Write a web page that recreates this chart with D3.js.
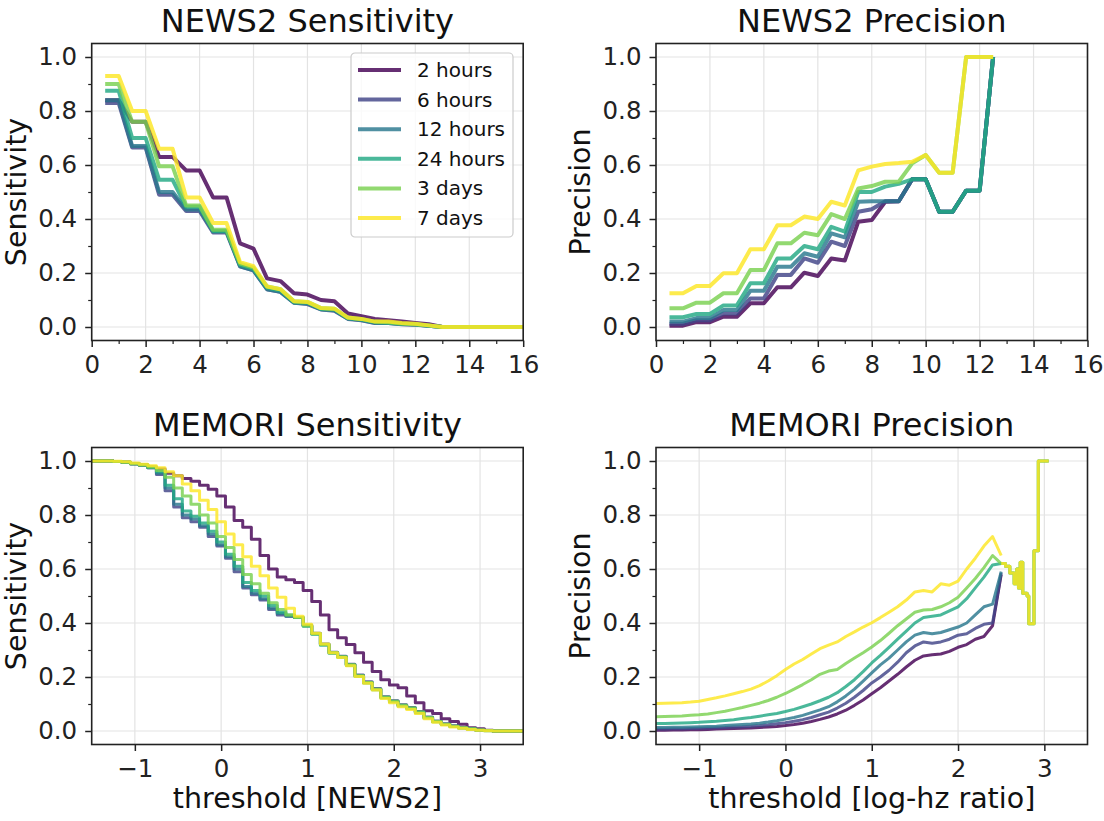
<!DOCTYPE html>
<html>
<head>
<meta charset="utf-8">
<script src="https://cdn.jsdelivr.net/npm/d3@7"></script>
<style>
    body { margin: 0; background: #fff; }
    svg { font-family: "DejaVu Sans", sans-serif; }
</style>
</head>
<body>
<div id="chart"></div>
<script>

// ---------------- data ----------------
const horizons = ["2 hours", "6 hours", "12 hours", "24 hours", "3 days", "7 days"];

// NEWS2 score thresholds
const news2Thresholds = [0.5, 1, 1.5, 2, 2.5, 3, 3.5, 4, 4.5, 5, 5.5, 6, 6.5, 7, 7.5, 8,
    8.5, 9, 9.5, 10, 10.5, 11, 11.5, 12, 12.5, 13, 13.5, 14, 14.5, 15, 15.5, 16];

const news2Sens2h  = [0.84, 0.84, 0.76, 0.76, 0.63, 0.63, 0.58, 0.58, 0.48, 0.48, 0.31, 0.29, 0.18, 0.17, 0.125, 0.12,
    0.10, 0.095, 0.05, 0.04, 0.03, 0.025, 0.02, 0.015, 0.01, 0, 0, 0, 0, 0, 0, 0];
const news2Sens6h  = [0.83, 0.83, 0.665, 0.665, 0.49, 0.49, 0.43, 0.43, 0.35, 0.35, 0.225, 0.21, 0.14, 0.13, 0.09, 0.085,
    0.065, 0.06, 0.03, 0.025, 0.015, 0.015, 0.01, 0.008, 0.005, 0, 0, 0, 0, 0, 0, 0];
const news2Sens12h = [0.84, 0.84, 0.67, 0.67, 0.50, 0.50, 0.435, 0.435, 0.355, 0.355, 0.225, 0.21, 0.14, 0.13, 0.09, 0.087,
    0.066, 0.062, 0.031, 0.026, 0.016, 0.015, 0.011, 0.009, 0.005, 0, 0, 0, 0, 0, 0, 0];
const news2Sens24h = [0.875, 0.875, 0.70, 0.70, 0.545, 0.545, 0.445, 0.445, 0.355, 0.355, 0.23, 0.215, 0.145, 0.135, 0.092, 0.09,
    0.067, 0.065, 0.032, 0.028, 0.018, 0.016, 0.012, 0.01, 0.005, 0, 0, 0, 0, 0, 0, 0];
const news2Sens3d  = [0.90, 0.90, 0.76, 0.76, 0.595, 0.595, 0.45, 0.45, 0.36, 0.36, 0.235, 0.22, 0.15, 0.14, 0.095, 0.093,
    0.07, 0.068, 0.035, 0.03, 0.02, 0.018, 0.013, 0.01, 0.006, 0, 0, 0, 0, 0, 0, 0];
const news2Sens7d  = [0.93, 0.93, 0.80, 0.80, 0.66, 0.66, 0.48, 0.48, 0.385, 0.385, 0.24, 0.225, 0.15, 0.14, 0.095, 0.093,
    0.07, 0.068, 0.035, 0.03, 0.02, 0.02, 0.015, 0.012, 0.006, 0, 0, 0, 0, 0, 0, 0];

// precision only defined up to 12.5
const news2Prec2h  = [0.005, 0.005, 0.018, 0.018, 0.038, 0.038, 0.088, 0.088, 0.147, 0.147, 0.201, 0.189, 0.254, 0.246,
    0.39, 0.396, 0.464, 0.466, 0.547, 0.547, 0.427, 0.427, 0.505, 0.505, 1.0];
const news2Prec6h  = [0.012, 0.012, 0.025, 0.025, 0.05, 0.05, 0.106, 0.106, 0.193, 0.193, 0.254, 0.238, 0.316, 0.30,
    0.427, 0.436, 0.466, 0.466, 0.547, 0.547, 0.427, 0.427, 0.505, 0.505, 1.0];
const news2Prec12h = [0.02, 0.02, 0.033, 0.033, 0.063, 0.063, 0.134, 0.134, 0.223, 0.223, 0.273, 0.26, 0.347, 0.332,
    0.464, 0.466, 0.466, 0.466, 0.547, 0.547, 0.427, 0.427, 0.505, 0.505, 1.0];
const news2Prec24h = [0.036, 0.036, 0.048, 0.048, 0.08, 0.08, 0.162, 0.162, 0.254, 0.254, 0.30, 0.288, 0.371, 0.353,
    0.50, 0.50, 0.52, 0.53, 0.547, 0.547, 0.427, 0.427, 0.505, 0.505, 1.0];
const news2Prec3d  = [0.069, 0.069, 0.09, 0.09, 0.125, 0.125, 0.211, 0.211, 0.31, 0.31, 0.349, 0.34, 0.418, 0.40,
    0.513, 0.522, 0.538, 0.538, 0.606, 0.637, 0.571, 0.571, 1.0, 1.0, 1.0];
const news2Prec7d  = [0.125, 0.125, 0.152, 0.152, 0.199, 0.199, 0.288, 0.288, 0.377, 0.377, 0.409, 0.40, 0.464, 0.45,
    0.58, 0.594, 0.604, 0.607, 0.612, 0.637, 0.571, 0.571, 1.0, 1.0, 1.0];

// MEMORI log-hazard ratio thresholds
const memoriThresholds = [-1.5, -1.4, -1.3, -1.2, -1.1, -1.0, -0.9, -0.8, -0.7, -0.6, -0.5, -0.4, -0.3, -0.2, -0.1,
    0.0, 0.1, 0.2, 0.3, 0.4, 0.5, 0.6, 0.7, 0.8, 0.9, 1.0, 1.1, 1.2, 1.3, 1.4, 1.5, 1.6, 1.7, 1.8, 1.9,
    2.0, 2.1, 2.2, 2.3, 2.4, 2.5, 2.6, 2.7, 2.8, 2.9, 3.0, 3.1, 3.2, 3.3, 3.4, 3.5];

const memoriSens2h  = [1, 1, 1, 0.998, 0.995, 0.99, 0.985, 0.978, 0.97, 0.955, 0.945, 0.935, 0.925, 0.91, 0.895,
    0.87, 0.83, 0.78, 0.755, 0.71, 0.65, 0.6, 0.57, 0.56, 0.55, 0.52, 0.48, 0.43, 0.375, 0.345, 0.32, 0.29, 0.255, 0.22, 0.19,
    0.17, 0.16, 0.13, 0.105, 0.075, 0.065, 0.045, 0.035, 0.025, 0.012, 0.008, 0.003, 0, 0, 0, 0];
const memoriSens6h  = [1, 1, 1, 0.998, 0.995, 0.99, 0.985, 0.975, 0.95, 0.89, 0.83, 0.79, 0.775, 0.755, 0.72,
    0.685, 0.64, 0.59, 0.53, 0.505, 0.485, 0.45, 0.43, 0.425, 0.42, 0.392, 0.362, 0.322, 0.292, 0.277, 0.247, 0.207, 0.182, 0.157, 0.127,
    0.112, 0.097, 0.087, 0.072, 0.052, 0.037, 0.027, 0.019, 0.013, 0.008, 0.004, 0.002, 0, 0, 0, 0];
const memoriSens12h = [1, 1, 1, 0.998, 0.995, 0.99, 0.985, 0.975, 0.955, 0.90, 0.84, 0.80, 0.785, 0.76, 0.73,
    0.69, 0.645, 0.60, 0.535, 0.51, 0.49, 0.455, 0.435, 0.425, 0.42, 0.39, 0.36, 0.32, 0.29, 0.275, 0.245, 0.205, 0.18, 0.155, 0.125,
    0.11, 0.095, 0.085, 0.07, 0.05, 0.035, 0.025, 0.018, 0.012, 0.008, 0.004, 0.002, 0, 0, 0, 0];
const memoriSens24h = [1, 1, 1, 0.998, 0.995, 0.99, 0.985, 0.976, 0.96, 0.91, 0.86, 0.815, 0.795, 0.77, 0.74,
    0.70, 0.655, 0.61, 0.55, 0.52, 0.50, 0.465, 0.44, 0.43, 0.42, 0.388, 0.358, 0.318, 0.288, 0.273, 0.243, 0.203, 0.178, 0.153, 0.123,
    0.108, 0.093, 0.083, 0.068, 0.048, 0.034, 0.024, 0.017, 0.011, 0.007, 0.003, 0.001, 0, 0, 0, 0];
const memoriSens3d  = [1, 1, 1, 0.998, 0.995, 0.99, 0.985, 0.978, 0.965, 0.94, 0.90, 0.87, 0.84, 0.80, 0.77,
    0.72, 0.68, 0.635, 0.58, 0.545, 0.51, 0.475, 0.45, 0.43, 0.42, 0.39, 0.36, 0.32, 0.29, 0.275, 0.245, 0.205, 0.18, 0.155, 0.125,
    0.11, 0.095, 0.085, 0.07, 0.05, 0.035, 0.025, 0.018, 0.012, 0.008, 0.004, 0.002, 0, 0, 0, 0];
const memoriSens7d  = [1, 1, 1, 0.999, 0.997, 0.993, 0.988, 0.982, 0.975, 0.96, 0.945, 0.915, 0.89, 0.855, 0.82,
    0.775, 0.73, 0.69, 0.645, 0.61, 0.575, 0.53, 0.495, 0.455, 0.425, 0.395, 0.362, 0.322, 0.29, 0.272, 0.242, 0.202, 0.177, 0.152, 0.12,
    0.105, 0.09, 0.08, 0.065, 0.045, 0.032, 0.022, 0.015, 0.01, 0.006, 0.003, 0.001, 0, 0, 0, 0];

// precision: first 41 thresholds (-1.5 .. 2.5)
const memoriPrec2h  = [0.003, 0.003, 0.004, 0.004, 0.005, 0.005, 0.006, 0.007, 0.008, 0.009, 0.010, 0.011, 0.013, 0.015, 0.017,
    0.020, 0.024, 0.029, 0.035, 0.043, 0.052, 0.063, 0.077, 0.095, 0.115, 0.138, 0.16, 0.185, 0.21, 0.237,
    0.262, 0.278, 0.282, 0.285, 0.295, 0.31, 0.32, 0.34, 0.35, 0.39, 0.58];
const memoriPrec6h  = [0.007, 0.007, 0.008, 0.008, 0.009, 0.01, 0.011, 0.012, 0.013, 0.015, 0.016, 0.018, 0.020, 0.023, 0.027,
    0.031, 0.036, 0.042, 0.05, 0.06, 0.07, 0.085, 0.103, 0.125, 0.15, 0.178, 0.2, 0.225, 0.255, 0.29,
    0.315, 0.33, 0.325, 0.33, 0.34, 0.355, 0.36, 0.38, 0.395, 0.40, 0.585];
const memoriPrec12h = [0.013, 0.013, 0.014, 0.014, 0.015, 0.016, 0.017, 0.018, 0.02, 0.022, 0.024, 0.026, 0.029, 0.033, 0.038,
    0.044, 0.05, 0.058, 0.068, 0.078, 0.09, 0.108, 0.13, 0.155, 0.185, 0.215, 0.245, 0.27, 0.30, 0.33,
    0.355, 0.365, 0.36, 0.365, 0.375, 0.385, 0.40, 0.43, 0.46, 0.47, 0.59];
const memoriPrec24h = [0.028, 0.028, 0.029, 0.03, 0.031, 0.032, 0.034, 0.036, 0.039, 0.042, 0.046, 0.05, 0.055, 0.06, 0.065,
    0.072, 0.08, 0.09, 0.1, 0.112, 0.125, 0.142, 0.165, 0.19, 0.22, 0.252, 0.28, 0.31, 0.34, 0.37,
    0.40, 0.42, 0.425, 0.43, 0.445, 0.46, 0.49, 0.53, 0.57, 0.615, 0.62];
const memoriPrec3d  = [0.053, 0.054, 0.055, 0.056, 0.058, 0.06, 0.063, 0.068, 0.073, 0.08, 0.087, 0.095, 0.103, 0.113, 0.125,
    0.139, 0.155, 0.172, 0.19, 0.21, 0.222, 0.228, 0.25, 0.27, 0.29, 0.311, 0.335, 0.362, 0.39, 0.415,
    0.44, 0.448, 0.45, 0.46, 0.475, 0.495, 0.53, 0.565, 0.605, 0.65, 0.62];
const memoriPrec7d  = [0.102, 0.103, 0.104, 0.105, 0.107, 0.11, 0.117, 0.123, 0.13, 0.138, 0.146, 0.155, 0.168, 0.185, 0.205,
    0.228, 0.248, 0.265, 0.285, 0.305, 0.318, 0.33, 0.35, 0.367, 0.385, 0.401, 0.42, 0.44, 0.46, 0.485,
    0.515, 0.52, 0.515, 0.545, 0.54, 0.555, 0.60, 0.64, 0.685, 0.72, 0.65];

// sparse high-threshold tail shared by the longer horizons
const memoriTailThresholds = [2.5, 2.55, 2.6, 2.65, 2.68, 2.7, 2.72, 2.75, 2.8, 2.82, 2.87, 2.88, 2.92, 2.93, 3.05];
const memoriTailPrec = [0.62, 0.61, 0.585, 0.545, 0.6, 0.53, 0.625, 0.51, 0.5, 0.397, 0.397, 0.668, 0.668, 1.0, 1.0];

const yTicks = [0, 0.2, 0.4, 0.6, 0.8, 1.0];
const yMinorTicks = [0.1, 0.3, 0.5, 0.7, 0.9];
const news2XTicks = [0, 2, 4, 6, 8, 10, 12, 14, 16];
const news2XMinorTicks = [1, 3, 5, 7, 9, 11, 13, 15];
const memoriXTicks = [-1, 0, 1, 2, 3];

// ---------------- helpers ----------------
const color = i => d3.interpolateViridis(i / 5);
const zip = (xs, ys) => ys.map((v, i) => ({x: xs[i], y: v}));

const svg = d3.select("#chart").append("svg")
    .attr("width", 1104)
    .attr("height", 821);

class CurvePanel {
    constructor(_opts) {
        this.opts = _opts;
        this.initVis();
    }

    initVis() {
        let vis = this;
        let o = vis.opts;

        vis.width = 431.5;
        vis.height = 297;

        vis.g = svg.append("g")
            .attr("transform", "translate(" + o.left + "," + o.top + ")");

        vis.x = d3.scaleLinear().domain(o.xDomain).range([0, vis.width]);
        vis.y = d3.scaleLinear().domain([-0.05, 1.05]).range([vis.height, 0]);

        // grid
        vis.g.append("g").selectAll("line").data(o.xTicks).join("line")
            .attr("x1", d => vis.x(d)).attr("x2", d => vis.x(d))
            .attr("y1", 0).attr("y2", vis.height)
            .attr("stroke", "#e3e3e3").attr("stroke-width", 1.2);
        vis.g.append("g").selectAll("line").data(yTicks).join("line")
            .attr("y1", d => vis.y(d)).attr("y2", d => vis.y(d))
            .attr("x1", 0).attr("x2", vis.width)
            .attr("stroke", "#e3e3e3").attr("stroke-width", 1.2);

        let clipId = "clip-" + o.id;
        vis.g.append("clipPath").attr("id", clipId)
            .append("rect").attr("width", vis.width).attr("height", vis.height);

        let line = d3.line()
            .x(d => vis.x(d.x))
            .y(d => vis.y(d.y))
            .curve(o.curve || d3.curveLinear);

        let lines = vis.g.append("g").attr("clip-path", "url(#" + clipId + ")");
        o.series.forEach(function (s, i) {
            lines.append("path")
                .datum(s)
                .attr("fill", "none")
                .attr("stroke", color(i))
                .attr("stroke-opacity", 0.82)
                .attr("stroke-width", o.lineWidth)
                .attr("stroke-linejoin", "round")
                .attr("d", line);
        });

        // tail segments (drawn as steps)
        if (o.tails) {
            let stepLine = d3.line().x(d => vis.x(d.x)).y(d => vis.y(d.y)).curve(d3.curveStepAfter);
            o.tails.forEach(function (t) {
                lines.append("path")
                    .datum(t.points)
                    .attr("fill", "none")
                    .attr("stroke", color(t.index))
                    .attr("stroke-opacity", 0.82)
                    .attr("stroke-width", o.lineWidth)
                    .attr("stroke-linejoin", "round")
                    .attr("d", stepLine);
            });
        }

        // axes
        let xAxis = d3.axisBottom(vis.x).tickValues(o.xTicks).tickSize(6.5).tickPadding(9)
            .tickFormat(d3.format("d"));
        let yAxis = d3.axisLeft(vis.y).tickValues(yTicks).tickSize(6.5).tickPadding(8)
            .tickFormat(d3.format(".1f"));

        let gx = vis.g.append("g").attr("transform", "translate(0," + vis.height + ")").call(xAxis);
        let gy = vis.g.append("g").call(yAxis);
        [gx, gy].forEach(function (ax) {
            ax.select(".domain").remove();
            ax.selectAll("line").attr("stroke", "#222").attr("stroke-width", 1.5);
            ax.selectAll("text").attr("fill", "#222").style("font-size", "24.5px")
                .style("font-family", "DejaVu Sans, sans-serif");
        });

        let gyMinor = vis.g.append("g").call(d3.axisLeft(vis.y).tickValues(yMinorTicks).tickSize(3.5).tickFormat(""));
        gyMinor.select(".domain").remove();
        gyMinor.selectAll("line").attr("stroke", "#222").attr("stroke-width", 1.2);

        if (o.xMinorTicks) {
            let gxMinor = vis.g.append("g").attr("transform", "translate(0," + vis.height + ")")
                .call(d3.axisBottom(vis.x).tickValues(o.xMinorTicks).tickSize(3.5).tickFormat(""));
            gxMinor.select(".domain").remove();
            gxMinor.selectAll("line").attr("stroke", "#222").attr("stroke-width", 1.2);
        }

        // spines
        vis.g.append("rect")
            .attr("width", vis.width).attr("height", vis.height)
            .attr("fill", "none").attr("stroke", "#222").attr("stroke-width", 1.6);

        // labels
        vis.g.append("text")
            .attr("x", vis.width / 2).attr("y", -12)
            .attr("text-anchor", "middle")
            .attr("fill", "#111")
            .style("font-size", "32px")
            .text(o.title);

        vis.g.append("text")
            .attr("transform", "translate(-66," + (vis.height / 2) + ") rotate(-90)")
            .attr("text-anchor", "middle")
            .attr("fill", "#111")
            .style("font-size", "28.5px")
            .text(o.yLabel);

        if (o.xLabel) {
            vis.g.append("text")
                .attr("x", vis.width / 2).attr("y", vis.height + 63.5)
                .attr("text-anchor", "middle")
                .attr("fill", "#111")
                .style("font-size", "28.5px")
                .text(o.xLabel);
        }
    }
}

// ---------------- panels ----------------
const news2SensSeries = [news2Sens2h, news2Sens6h, news2Sens12h, news2Sens24h, news2Sens3d, news2Sens7d]
    .map(s => zip(news2Thresholds, s));
const news2PrecSeries = [news2Prec2h, news2Prec6h, news2Prec12h, news2Prec24h, news2Prec3d, news2Prec7d]
    .map(s => zip(news2Thresholds, s));
const memoriSensSeries = [memoriSens2h, memoriSens6h, memoriSens12h, memoriSens24h, memoriSens3d, memoriSens7d]
    .map(s => zip(memoriThresholds, s));
const memoriPrecSeries = [memoriPrec2h, memoriPrec6h, memoriPrec12h, memoriPrec24h, memoriPrec3d, memoriPrec7d]
    .map(s => zip(memoriThresholds, s));
const memoriTail = zip(memoriTailThresholds, memoriTailPrec);

new CurvePanel({id: "p1", left: 91.7, top: 43.5, xDomain: [0, 16], xTicks: news2XTicks, xMinorTicks: news2XMinorTicks,
    series: news2SensSeries, lineWidth: 4, title: "NEWS2 Sensitivity", yLabel: "Sensitivity"});
new CurvePanel({id: "p2", left: 656, top: 43.5, xDomain: [0, 16], xTicks: news2XTicks, xMinorTicks: news2XMinorTicks,
    series: news2PrecSeries, lineWidth: 4, title: "NEWS2 Precision", yLabel: "Precision"});
new CurvePanel({id: "p3", left: 91.7, top: 447.5, xDomain: [-1.5, 3.5], xTicks: memoriXTicks,
    series: memoriSensSeries, lineWidth: 3, curve: d3.curveStep,
    title: "MEMORI Sensitivity", yLabel: "Sensitivity", xLabel: "threshold [NEWS2]"});
new CurvePanel({id: "p4", left: 656, top: 447.5, xDomain: [-1.5, 3.5], xTicks: memoriXTicks,
    series: memoriPrecSeries, lineWidth: 3,
    tails: [{index: 3, points: memoriTail}, {index: 4, points: memoriTail}, {index: 5, points: memoriTail}],
    title: "MEMORI Precision", yLabel: "Precision", xLabel: "threshold [log-hz ratio]"});

// legend (top-left panel)
let legend = svg.append("g").attr("transform", "translate(351,53)");
legend.append("rect")
    .attr("width", 162).attr("height", 184).attr("rx", 4)
    .attr("fill", "#fff").attr("fill-opacity", 0.8)
    .attr("stroke", "#cccccc").attr("stroke-width", 1.2);
horizons.forEach(function (h, i) {
    let row = legend.append("g").attr("transform", "translate(0," + (17 + i * 29.6) + ")");
    row.append("line")
        .attr("x1", 7).attr("x2", 50)
        .attr("stroke", color(i)).attr("stroke-opacity", 0.82).attr("stroke-width", 4);
    row.append("text")
        .attr("x", 66).attr("dy", "0.35em")
        .attr("fill", "#111")
        .style("font-size", "20px")
        .text(h);
});

</script>
</body>
</html>
